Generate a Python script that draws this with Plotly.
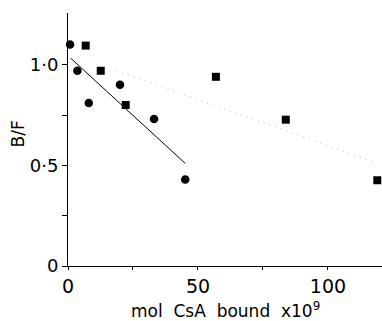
import plotly.graph_objects as go

# Data
circle_x = [0.8, 3.6, 8.0, 20.0, 33.1, 45.1]
circle_y = [1.10, 0.97, 0.81, 0.90, 0.73, 0.43]
square_x = [6.8, 12.6, 22.2, 56.9, 83.8, 119.0]
square_y = [1.095, 0.97, 0.80, 0.94, 0.727, 0.426]
solid_fit_x = [1.0, 45.1]
solid_fit_y = [1.033, 0.51]
dotted_fit_x = [18.7, 117.0]
dotted_fit_y = [0.97, 0.52]

x_tickvals = [0, 50, 100]
x_ticktext = ["0", "50", "100"]
x_minor = [25, 75]
y_tickvals = [0, 0.5, 1.0]
y_ticktext = ["0", "0·5", "1·0"]
y_minor = [0.25, 0.75]

fig = go.Figure()
fig.add_trace(go.Scatter(x=dotted_fit_x, y=dotted_fit_y, mode="lines",
                         line=dict(color="#b0b0b0", width=1, dash="1px,5px"),
                         showlegend=False, hoverinfo="skip"))
fig.add_trace(go.Scatter(x=solid_fit_x, y=solid_fit_y, mode="lines",
                         line=dict(color="black", width=1),
                         showlegend=False, hoverinfo="skip"))
fig.add_trace(go.Scatter(x=circle_x, y=circle_y, mode="markers", cliponaxis=False,
                         marker=dict(symbol="circle", size=8.5, color="black"),
                         showlegend=False))
fig.add_trace(go.Scatter(x=square_x, y=square_y, mode="markers", cliponaxis=False,
                         marker=dict(symbol="square", size=8, color="black"),
                         showlegend=False))

font_family = "DejaVu Sans"
fig.update_layout(
    width=382, height=321,
    margin=dict(l=68, r=0, t=13, b=55),
    paper_bgcolor="white", plot_bgcolor="white",
    font=dict(family=font_family, color="black", size=17),
    xaxis=dict(range=[0, 120.8], showgrid=False, zeroline=False, automargin=False,
               showline=True, linecolor="black", linewidth=1.2,
               ticks="outside", ticklen=3, tickcolor="black", tickwidth=1,
               tickmode="array", tickvals=x_tickvals, ticktext=x_ticktext,
               minor=dict(tickmode="array", tickvals=x_minor, ticks="outside",
                          ticklen=3, tickcolor="black", tickwidth=1, showgrid=False),
               tickfont=dict(size=19)),
    yaxis=dict(range=[0, 1.257], showgrid=False, zeroline=False, automargin=False,
               showline=True, linecolor="black", linewidth=1,
               ticks="outside", ticklen=5, tickcolor="black", tickwidth=1,
               tickmode="array", tickvals=y_tickvals, ticktext=y_ticktext,
               minor=dict(tickmode="array", tickvals=y_minor, ticks="outside",
                          ticklen=5, tickcolor="black", tickwidth=1, showgrid=False),
               tickfont=dict(size=18)),
    annotations=[
        dict(text="mol  CsA  bound  x10<sup>9</sup>", xref="paper", yref="paper",
             x=0.5, y=-0.175, xanchor="center", yanchor="middle",
             showarrow=False, font=dict(size=17)),
        dict(text="B/F", xref="paper", yref="paper", textangle=-90,
             x=-0.159, y=0.52, xanchor="center", yanchor="middle",
             showarrow=False, font=dict(size=17)),
    ],
)

fig.write_html("out.html", config={"displayModeBar": False},
               post_script="document.body.style.margin='0';")
